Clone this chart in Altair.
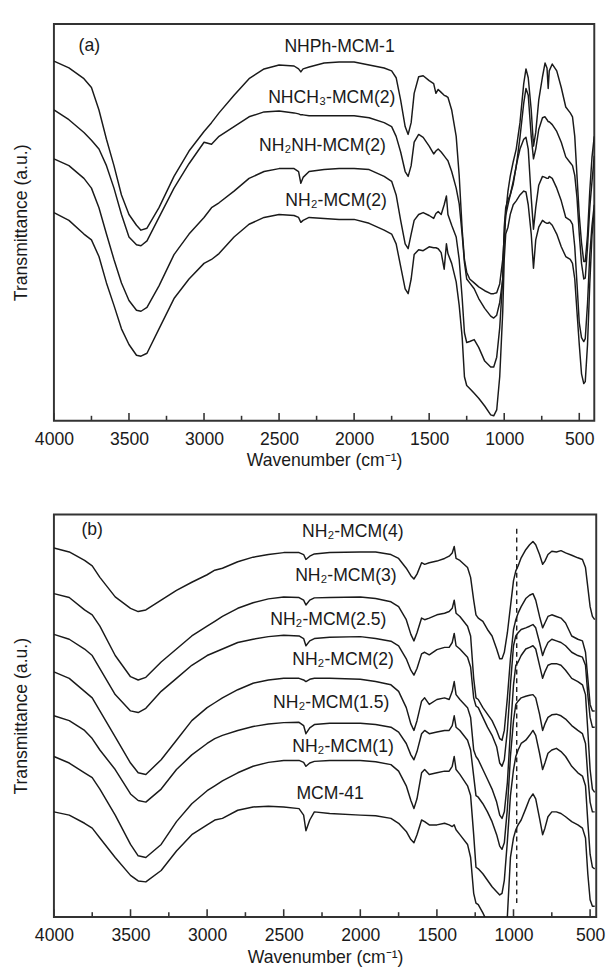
import altair as alt
import pandas as pd

# ---------------- Panel (a) data ----------------
WN_A = [4000, 3900, 3800, 3750, 3700, 3650, 3600, 3550, 3500, 3450, 3420, 3380, 3300, 3200, 3100,
        3000, 2950, 2900, 2800, 2700, 2600, 2500, 2400, 2370, 2355, 2340, 2300, 2200, 2100, 2000,
        1900, 1800, 1750, 1720, 1690, 1660, 1640, 1620, 1600, 1570, 1540, 1500, 1470, 1455, 1440,
        1420, 1400, 1385, 1375, 1350, 1320, 1300, 1280, 1265, 1250, 1230, 1200, 1170, 1130, 1090,
        1070, 1050, 1030, 1010, 1000, 990, 975, 960, 940, 920, 895, 870, 855, 840, 820,
        805, 790, 770, 745, 728, 715, 707, 700, 680, 650, 620, 590, 560, 545, 530,
        515, 500, 485, 470, 460, 445, 430, 415, 400]

NHPH_MCM1 = [368, 361, 350, 341, 318, 288, 261, 231, 211, 200, 195, 197, 218, 250, 276,
             296, 305, 315, 333, 350, 360, 364, 363, 360, 357, 360, 362, 366, 367, 367,
             364, 361, 358, 351, 328, 301, 293, 305, 335, 352, 353, 348, 345, 335, 339,
             336, 333, 332, 331, 318, 291, 251, 195, 165, 152, 145, 141, 137, 133, 130,
             130, 131, 140, 165, 188, 212, 235, 250, 265, 278, 305, 345, 360, 351, 318,
             281, 295, 328, 352, 366, 361, 340, 358, 365, 358, 341, 321, 315, 311, 291,
             250, 210, 182, 163, 163, 190, 235, 270, 291]

NHCH3_MCM2 = [318, 308, 295, 287, 278, 261, 238, 211, 188, 180, 179, 184, 208, 238, 263,
              285, 283, 291, 301, 311, 316, 317, 315, 314, 313, 313, 312, 312, 312, 312,
              310, 305, 301, 291, 275, 255, 250, 261, 285, 293, 290, 281, 273, 276, 278,
              275, 271, 268, 266, 255, 238, 222, 190, 162, 145, 141, 135, 125, 115, 107,
              105, 108, 121, 145, 185, 210, 221, 231, 245, 260, 290, 325, 340, 333, 291,
              268, 278, 298, 310, 311, 308, 306, 306, 303, 296, 285, 270, 264, 261, 251,
              228, 191, 161, 145, 146, 178, 218, 245, 271]

NH2NH_MCM2 = [268, 261, 248, 238, 218, 191, 165, 141, 123, 113, 112, 116, 138, 170, 191,
              208, 218, 223, 235, 248, 255, 258, 258, 255, 243, 249, 255, 257, 258, 258,
              257, 250, 245, 231, 205, 181, 176, 191, 205, 211, 213, 210, 207, 212, 214,
              211, 221, 230, 211, 200, 188, 165, 125, 90, 80, 81, 83, 75, 61, 55,
              55, 65, 95, 145, 198, 218, 226, 231, 242, 261, 278, 288, 290, 278, 228,
              196, 218, 241, 250, 249, 248, 248, 250, 248, 238, 225, 208, 205, 201, 178,
              140, 100, 85, 81, 84, 120, 170, 200, 221]

NH2_MCM2 = [213, 205, 191, 185, 168, 141, 118, 94, 78, 67, 66, 69, 94, 125, 145,
            161, 165, 171, 188, 201, 208, 211, 210, 208, 203, 205, 208, 207, 206, 206,
            202, 195, 191, 181, 158, 135, 130, 145, 170, 175, 174, 178, 177, 177, 176,
            172, 155, 181, 171, 161, 142, 118, 85, 45, 36, 33, 28, 23, 15, 6,
            5, 11, 45, 111, 165, 191, 198, 211, 221, 225, 231, 235, 234, 221, 191,
            156, 185, 198, 205, 203, 202, 202, 203, 200, 191, 178, 168, 165, 161, 145,
            111, 78, 48, 38, 40, 78, 140, 190, 215]

SERIES_A = {"NHPh-MCM-1": NHPH_MCM1, "NHCH3-MCM(2)": NHCH3_MCM2,
            "NH2NH-MCM(2)": NH2NH_MCM2, "NH2-MCM(2)": NH2_MCM2}

LABELS_A = ["(a)", "NHPh-MCM-1", "NHCH\u2083-MCM(2)", "NH\u2082NH-MCM(2)", "NH\u2082-MCM(2)"]
LABEL_WN_A = [3764, 2097, 2149, 2211, 2120]
LABEL_Y_A = [383, 382, 330, 281, 225]

# ---------------- Panel (b) data ----------------
WN_B = [4000, 3900, 3800, 3750, 3700, 3600, 3500, 3450, 3400, 3300, 3200, 3100, 3000, 2950, 2900,
        2800, 2700, 2600, 2500, 2400, 2370, 2355, 2330, 2300, 2200, 2000, 1900, 1800, 1750, 1700,
        1670, 1650, 1630, 1600, 1580, 1550, 1500, 1450, 1420, 1400, 1387, 1375, 1350, 1300, 1280,
        1260, 1245, 1230, 1200, 1170, 1140, 1110, 1090, 1075, 1060, 1040, 1020, 1000, 985, 970,
        950, 920, 895, 873, 855, 830, 810, 795, 775, 750, 720, 690, 660, 620, 580,
        550, 530, 515, 500, 485, 470]

NH2_MCM4 = [1133, 1121, 1095, 1078, 1043, 983, 948, 938, 943, 973, 1003, 1028, 1051, 1065, 1071,
            1091, 1105, 1113, 1119, 1119, 1113, 1098, 1108, 1115, 1119, 1121, 1121, 1113, 1101, 1071,
            1048, 1038, 1053, 1088, 1083, 1088, 1093, 1101, 1108, 1118, 1138, 1101, 1095, 1073, 1043,
            973, 928, 918, 908, 883, 863, 823, 793, 793, 813, 873, 953, 1033, 1063, 1078,
            1103, 1128, 1143, 1153, 1143, 1113, 1083, 1093, 1113, 1123, 1121, 1125, 1118, 1111, 1103,
            1098, 1073, 1013, 953, 923, 913]

NH2_MCM3 = [993, 981, 943, 928, 893, 803, 738, 728, 736, 783, 823, 863, 893, 908, 923,
            948, 965, 977, 983, 981, 973, 958, 973, 980, 981, 983, 978, 968, 953, 913,
            868, 848, 873, 918, 913, 918, 928, 933, 938, 948, 973, 933, 923, 893, 863,
            733, 673, 668, 643, 623, 603, 573, 548, 543, 573, 673, 793, 883, 913, 933,
            953, 978, 988, 993, 973, 923, 888, 903, 923, 928, 923, 918, 903, 863, 853,
            848, 813, 733, 653, 633, 633]

NH2_MCM25 = [868, 853, 823, 803, 763, 683, 633, 628, 641, 693, 733, 773, 803, 813, 823,
             843, 853, 861, 865, 863, 855, 833, 848, 855, 859, 861, 855, 847, 833, 793,
             758, 743, 763, 808, 813, 805, 821, 828, 828, 843, 871, 833, 823, 798, 768,
             673, 648, 643, 613, 583, 558, 523, 473, 463, 483, 573, 713, 833, 863, 873,
             883, 888, 893, 898, 888, 843, 803, 823, 843, 853, 848, 843, 833, 813, 803,
             798, 773, 683, 613, 583, 583]

NH2_MCM2B = [753, 733, 693, 673, 633, 553, 473, 443, 438, 483, 543, 603, 643, 658, 673,
             698, 718, 728, 733, 733, 728, 723, 730, 733, 733, 730, 723, 713, 693, 643,
             593, 573, 603, 663, 673, 653, 668, 673, 668, 693, 723, 683, 668, 643, 613,
             513, 493, 483, 453, 423, 393, 353, 313, 303, 323, 413, 573, 713, 773, 783,
             803, 823, 828, 833, 823, 773, 733, 753, 773, 778, 778, 773, 758, 733, 723,
             713, 683, 573, 453, 393, 383]

NH2_MCM15 = [618, 603, 573, 548, 513, 453, 378, 358, 353, 393, 453, 498, 533, 548, 558,
             573, 585, 593, 597, 598, 588, 563, 581, 591, 595, 595, 591, 583, 568, 533,
             498, 483, 508, 563, 573, 563, 568, 573, 573, 588, 618, 583, 573, 543, 513,
             433, 373, 368, 348, 323, 293, 253, 218, 208, 228, 333, 493, 603, 653, 663,
             673, 678, 681, 683, 673, 623, 573, 593, 613, 621, 623, 618, 608, 588, 573,
             563, 533, 433, 353, 323, 323]

NH2_MCM1 = [493, 473, 443, 428, 393, 313, 223, 188, 183, 223, 293, 348, 388, 403, 418,
            443, 463, 475, 481, 481, 475, 463, 473, 478, 481, 481, 477, 468, 448, 403,
            358, 333, 363, 443, 453, 438, 443, 448, 448, 463, 493, 453, 438, 403, 373,
            253, 153, 148, 133, 113, 93, 78, 68, 73, 113, 233, 373, 453, 493, 513,
            533, 543, 558, 573, 558, 503, 453, 473, 503, 513, 518, 508, 493, 463, 443,
            433, 403, 293, 193, 153, 148]

MCM41 = [323, 313, 288, 273, 243, 183, 128, 111, 108, 143, 203, 253, 283, 298, 303,
         328, 338, 340, 338, 333, 313, 265, 298, 323, 318, 313, 311, 303, 288, 263,
         238, 228, 253, 298, 293, 283, 283, 288, 283, 278, 283, 268, 253, 223, 183,
         73, 43, 38, 13, -17, -87, -167, -217, -217, -167, 3, 183, 243, 268, 283,
         298, 333, 363, 378, 363, 303, 253, 273, 308, 323, 323, 318, 308, 293, 283,
         273, 243, 133, 53, 33, 33]

SERIES_B = {"NH2-MCM(4)": NH2_MCM4, "NH2-MCM(3)": NH2_MCM3, "NH2-MCM(2.5)": NH2_MCM25,
            "NH2-MCM(2)": NH2_MCM2B, "NH2-MCM(1.5)": NH2_MCM15, "NH2-MCM(1)": NH2_MCM1,
            "MCM-41": MCM41}

LABELS_B = ["(b)", "NH\u2082-MCM(4)", "NH\u2082-MCM(3)", "NH\u2082-MCM(2.5)", "NH\u2082-MCM(2)",
            "NH\u2082-MCM(1.5)", "NH\u2082-MCM(1)", "MCM-41"]
LABEL_WN_B = [3750, 2049, 2094, 2209, 2113, 2190, 2113, 2197]
LABEL_Y_B = [1189, 1183, 1048, 913, 788, 658, 523, 378]

DASH_WN = [979]
DASH_Y = [43]
DASH_Y2 = [1203]

MAJOR_TICKS = [4000, 3500, 3000, 2500, 2000, 1500, 1000, 500]
MINOR_TICKS = [3750, 3250, 2750, 2250, 1750, 1250, 750]

FONT = "Liberation Sans"
INK = "#1a1a1a"


def long_frame(wn, series):
    rows = []
    for name, vals in series.items():
        if len(vals) != len(wn):
            raise ValueError(f"{name}: {len(vals)} vs {len(wn)}")
        for w, v in zip(wn, vals):
            rows.append({"wn": w, "y": v, "sample": name})
    return pd.DataFrame(rows)


def panel(wn, series, labels, lwn, ly, xdom, ydom, w, h, extra=None):
    xscale = alt.Scale(domain=xdom, reverse=True, nice=False, zero=False)
    yscale = alt.Scale(domain=ydom, nice=False, zero=False)
    xaxis = alt.Axis(values=MAJOR_TICKS, format="d", ticks=False, tickSize=0, domain=False,
                     grid=False, labelFontSize=18, labelFont=FONT, labelColor=INK,
                     labelPadding=10, labelFlush=False, labelOverlap=False,
                     title="Wavenumber (cm\u207b\u00b9)", titleFont=FONT, titleFontSize=18,
                     titleFontWeight="normal", titleColor=INK, titlePadding=4)
    yaxis = alt.Axis(labels=False, ticks=False, tickSize=0, domain=False, grid=False,
                     title="Transmittance (a.u.)", titleFont=FONT, titleFontSize=18,
                     titleFontWeight="normal", titleColor=INK, titlePadding=24)

    lines = alt.Chart(long_frame(wn, series)).mark_line(
        color=INK, strokeWidth=1.5, clip=True, strokeJoin="round"
    ).encode(
        x=alt.X("wn:Q", scale=xscale, axis=xaxis),
        y=alt.Y("y:Q", scale=yscale, axis=yaxis),
        detail="sample:N",
    )

    major = alt.Chart(pd.DataFrame({"wn": MAJOR_TICKS})).mark_rule(
        color="#333", strokeWidth=1.6).encode(
        x=alt.X("wn:Q"), y=alt.value(h), y2=alt.value(h - 8))
    minor = alt.Chart(pd.DataFrame({"wn": MINOR_TICKS})).mark_rule(
        color="#333", strokeWidth=1.6).encode(
        x=alt.X("wn:Q"), y=alt.value(h), y2=alt.value(h - 5))

    text = alt.Chart(pd.DataFrame({"wn": lwn, "y": ly, "label": labels})).mark_text(
        font=FONT, fontSize=18, color=INK, align="center", baseline="middle"
    ).encode(x="wn:Q", y="y:Q", text="label:N")

    layers = [lines, major, minor, text]
    if extra is not None:
        layers.append(extra)
    return alt.layer(*layers).properties(width=w, height=h)


dash = alt.Chart(pd.DataFrame({"wn": DASH_WN, "y": DASH_Y, "y2": DASH_Y2})).mark_rule(
    color=INK, strokeWidth=1.4, strokeDash=[5, 4]
).encode(x="wn:Q", y="y:Q", y2="y2:Q")

pa = panel(WN_A, SERIES_A, LABELS_A, LABEL_WN_A, LABEL_Y_A, [400, 4000], [0, 406], 553, 406)
pb = panel(WN_B, SERIES_B, LABELS_B, LABEL_WN_B, LABEL_Y_B, [460, 4000], [0, 1236], 555, 412,
           extra=dash)

chart = alt.vconcat(pa, pb, spacing=44).properties(
    padding={"left": 4, "top": 4, "right": 0, "bottom": 0}
).configure_view(stroke="#333", strokeWidth=2)

chart.save("out.html", embed_options={"renderer": "svg", "actions": False})
